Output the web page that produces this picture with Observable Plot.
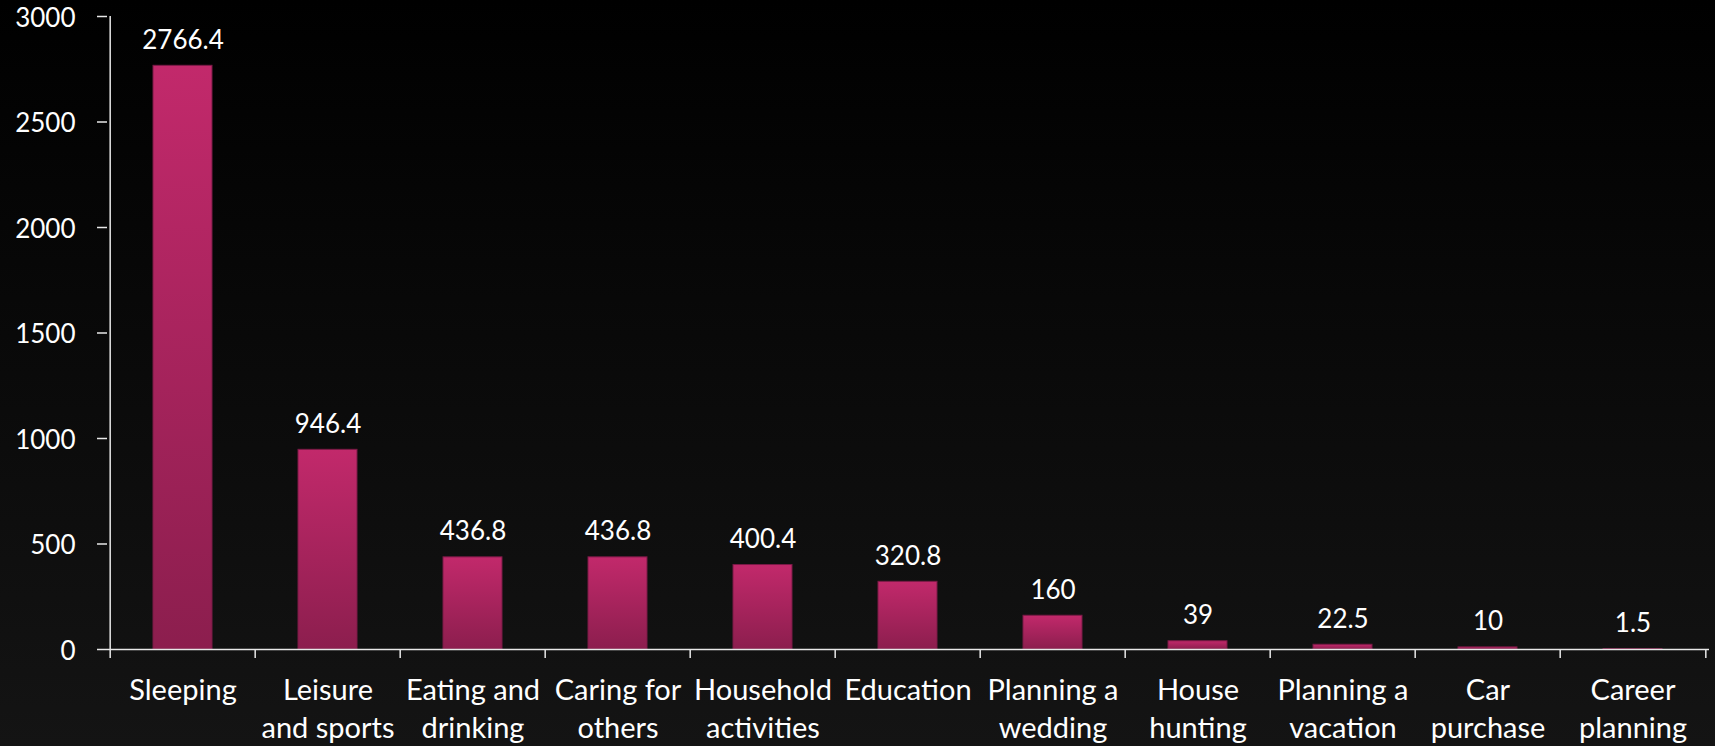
<!DOCTYPE html>
<html>
<head>
<meta charset="utf-8">
<script src="https://cdn.jsdelivr.net/npm/d3@7"></script>
<script src="https://cdn.jsdelivr.net/npm/@observablehq/plot@0.6"></script>
<style>
  html, body { margin: 0; padding: 0; }
  body { width: 1715px; height: 746px; background: linear-gradient(#000000, #141414); overflow: hidden; }
  #chart svg { display: block; }
</style>
</head>
<body>
<div id="chart"></div>
<script>
const categories = ["Sleeping", "Leisure\nand sports", "Eating and\ndrinking", "Caring for\nothers", "Household\nactivities", "Education", "Planning a\nwedding", "House\nhunting", "Planning a\nvacation", "Car\npurchase", "Career\nplanning"];
const values = [2766.4, 946.4, 436.8, 436.8, 400.4, 320.8, 160, 39, 22.5, 10, 1.5];
const yTicks = [0, 500, 1000, 1500, 2000, 2500, 3000];

const data = categories.map((c, i) => ({category: c, value: values[i]}));

const W = 1715, H = 746;
const mL = 107, mR = 6, mT = 16, mB = 97;
const step = (W - mL - mR) / categories.length;
const font = "Lato, 'Open Sans', sans-serif";

const chart = Plot.plot({
  width: W,
  height: H,
  marginLeft: mL,
  marginRight: mR,
  marginTop: mT,
  marginBottom: mB,
  style: {background: "transparent", color: "#ffffff", fontFamily: font},
  x: {domain: categories, paddingInner: 0.59, paddingOuter: 0.295, label: null},
  y: {domain: [0, 3000], label: null},
  marks: [
    Plot.barY(data, {x: "category", y: "value", fill: "url(#barGrad)", stroke: "#7a1a46", strokeWidth: 1}),
    Plot.text(data, {x: "category", y: "value", text: d => String(d.value), dy: -17, lineAnchor: "bottom", fontSize: 26, fill: "#ffffff"}),
    Plot.ruleY([0], {stroke: "#e8e8e8", strokeWidth: 1.5}),
    Plot.ruleX([categories[0]], {dx: -step / 2, y1: 0, y2: 3000, stroke: "#e8e8e8", strokeWidth: 1.5}),
    Plot.axisY({ticks: yTicks, tickFormat: () => "", tickSize: 10, stroke: "#e8e8e8", strokeWidth: 1.5, label: null}),
    Plot.axisY({ticks: yTicks, tickFormat: d => String(d), tickSize: 0, tickPadding: 32, fontSize: 26, dy: 2, label: null}),
    Plot.axisX({ticks: categories, tickSize: 9, tickFormat: () => "", dx: -step / 2, stroke: "#e8e8e8", strokeWidth: 1.5, label: null}),
    Plot.axisX({ticks: [categories[categories.length - 1]], tickSize: 9, tickFormat: () => "", dx: step / 2, stroke: "#e8e8e8", strokeWidth: 1.5, label: null}),
    Plot.axisX({ticks: categories, tickSize: 0, tickPadding: 23, fontSize: 29, lineHeight: 1.32, label: null})
  ]
});

const svg = d3.select(chart);
const defs = svg.insert("defs", ":first-child");
const grad = defs.append("linearGradient").attr("id", "barGrad").attr("x1", 0).attr("y1", 0).attr("x2", 0).attr("y2", 1);
grad.append("stop").attr("offset", "0%").attr("stop-color", "#c2296b");
grad.append("stop").attr("offset", "100%").attr("stop-color", "#8c1e4e");

document.getElementById("chart").appendChild(chart);
</script>
</body>
</html>
